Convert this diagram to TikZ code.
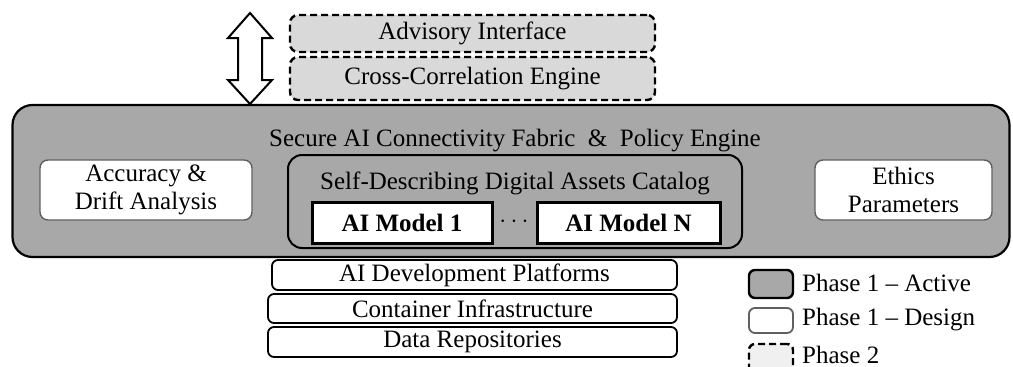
\documentclass[tikz,border=0pt]{standalone}
\usepackage{fontspec}
\setmainfont{Liberation Serif}
\usetikzlibrary{positioning}
\definecolor{activegray}{HTML}{A8A8A8}
\definecolor{phasetwo}{HTML}{D9D9D9}
\definecolor{phasetwolight}{HTML}{F0F0F0}
\definecolor{designedge}{HTML}{606060}
\tikzset{
  txt/.style={font=\fontsize{25}{28}\selectfont, inner sep=0pt, align=center},
  activebox/.style={txt, draw=black, line width=2.2pt, fill=activegray, rounded corners=20pt},
  catalogbox/.style={txt, draw=black, line width=2pt, fill=activegray, rounded corners=14pt},
  designbox/.style={txt, draw=designedge, line width=1.4pt, fill=white, rounded corners=8pt},
  modelbox/.style={txt, font=\fontsize{25}{28}\selectfont\bfseries, draw=black, line width=3pt, fill=white},
  layerbox/.style={txt, draw=black, line width=1.8pt, fill=white, rounded corners=6pt},
  futurebox/.style={txt, draw=black, line width=2.4pt, dash pattern=on 7pt off 4pt, fill=phasetwo, rounded corners=8pt},
  legendtxt/.style={txt, anchor=west},
}
\begin{document}
\begin{tikzpicture}[x=1pt, y=-1pt]
\useasboundingbox (0,0) rectangle (1013,367);
\clip (0,0) rectangle (1013,367);

% main fabric
\node[activebox, minimum width=997pt, minimum height=152pt] (fabric) at (511,181) {};
\node[txt] (fabrictitle) at (515,141) {Secure AI Connectivity Fabric \ \& \ Policy Engine};

% design components
\node[designbox, minimum width=212pt, minimum height=60pt] (acc) at (146,190) {Accuracy \&\\Drift Analysis};
\node[designbox, minimum width=177pt, minimum height=60pt] (eth) at (903.5,190) {Ethics\\Parameters};

% catalog with models
\node[catalogbox, minimum width=454pt, minimum height=93pt] (cat) at (515,201.5) {};
\node[txt] (cattitle) at (515,183) {Self-Describing Digital Assets Catalog};
\node[modelbox, minimum width=180pt, minimum height=41pt] (m1) at (402,222.5) {AI Model 1};
\node[modelbox, minimum width=183pt, minimum height=41pt] (mN) at (628.5,222.5) {AI Model N};
\node[txt] (dots) at (514,222) {$\cdots$};

% phase 2 components
\node[futurebox, minimum width=365pt, minimum height=37pt] (adv) at (472.5,33.5) {Advisory Interface};
\node[futurebox, minimum width=365pt, minimum height=43pt] (cce) at (472.5,78.5) {Cross-Correlation Engine};

% bidirectional interface arrow
\draw[line width=2pt, fill=white, line join=miter]
  (250,13) -- (272,38) -- (262,38) -- (262,80) -- (272,80) -- (250,104)
  -- (228,80) -- (238,80) -- (238,38) -- (228,38) -- cycle;

% infrastructure layers
\node[layerbox, minimum width=405pt, minimum height=30pt] (plat) at (474.5,275) {AI Development Platforms};
\node[layerbox, minimum width=409pt, minimum height=29pt] (cont) at (472.5,308.5) {Container Infrastructure};
\node[layerbox, minimum width=409pt, minimum height=30pt] (data) at (472.5,342) {Data Repositories};

% legend
\node[draw=black, line width=2.4pt, fill=activegray, rounded corners=6pt, minimum width=44pt, minimum height=28pt, inner sep=0pt] (legact) at (771,284) {};
\node[legendtxt] (legacttxt) at (802,283) {Phase 1 -- Active};
\node[draw=designedge, line width=1.8pt, fill=white, rounded corners=6pt, minimum width=44pt, minimum height=25pt, inner sep=0pt] (legdes) at (771,320.5) {};
\node[legendtxt] (legdestxt) at (802,320) {Phase 1 -- Design};
\node[draw=black, line width=2.4pt, dash pattern=on 7pt off 4pt, fill=phasetwolight, rounded corners=6pt, minimum width=44pt, minimum height=34pt, inner sep=0pt] (legfut) at (771,361) {};
\node[legendtxt] (legfuttxt) at (802,355) {Phase 2};
\end{tikzpicture}
\end{document}
